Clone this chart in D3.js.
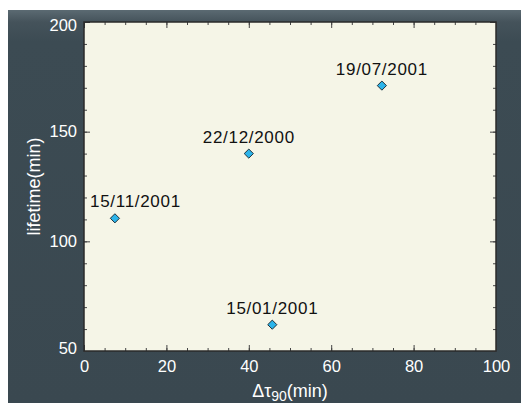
<!DOCTYPE html>
<html><head><meta charset="utf-8">
<script src="https://cdn.jsdelivr.net/npm/d3@7"></script>
<style>
html,body{margin:0;padding:0;background:#fff;}
svg{display:block;}
text{font-family:"Liberation Sans",Arial,Helvetica,sans-serif;}
</style></head>
<body>
<svg id="c" width="521" height="403"></svg>
<script>
const events = ["15/11/2001","22/12/2000","19/07/2001","15/01/2001"];
const deltaTau = [7.5, 40, 72.3, 45.7];
const lifetime = [110.5, 140, 171, 62];
const xTicks = [0,20,40,60,80,100];
const yTicks = [50,100,150,200];
const xLabel = "Δτ";
const xLabelSub = "90";
const xLabelUnit = "(min)";
const yLabel = "lifetime(min)";

const svg = d3.select("#c");
const W = 521, H = 403;
const L = 84, R = 496, T = 22, B = 351;

const defs = svg.append("defs");
const g1 = defs.append("linearGradient").attr("id","bg").attr("x1",0).attr("y1",0).attr("x2",0).attr("y2",1);
g1.append("stop").attr("offset","0").attr("stop-color","#5b6a72");
g1.append("stop").attr("offset","0.03").attr("stop-color","#45535b");
g1.append("stop").attr("offset","0.08").attr("stop-color","#3c4b53");
g1.append("stop").attr("offset","1").attr("stop-color","#3a4850");

svg.append("rect").attr("x",0).attr("y",0).attr("width",W).attr("height",H).attr("fill","#ffffff");
svg.append("rect").attr("x",8).attr("y",10).attr("width",W-8).attr("height",H-10).attr("fill","url(#bg)");

const x = d3.scaleLinear().domain([0,100]).range([L,R]);
const y = d3.scaleLinear().domain([50,200]).range([B,T]);

svg.append("rect").attr("x",L).attr("y",T).attr("width",R-L).attr("height",B-T).attr("fill","#f5f5e7");

const tickCol = "#444";
function drawAxis(axis, tr){
  const g = svg.append("g").attr("transform",tr).call(axis);
  g.select(".domain").remove();
  g.selectAll(".tick line").attr("stroke",tickCol).attr("stroke-width",1);
  return g;
}
// minor ticks
drawAxis(d3.axisBottom(x).tickValues(d3.range(0,101,5)).tickSize(-3).tickFormat(""), `translate(0,${B})`);
drawAxis(d3.axisTop(x).tickValues(d3.range(0,101,5)).tickSize(-3).tickFormat(""), `translate(0,${T})`);
drawAxis(d3.axisLeft(y).tickValues(d3.range(50,201,10)).tickSize(-3).tickFormat(""), `translate(${L},0)`);
drawAxis(d3.axisRight(y).tickValues(d3.range(50,201,10)).tickSize(-3).tickFormat(""), `translate(${R},0)`);
// major ticks
const xb = drawAxis(d3.axisBottom(x).tickValues(xTicks).tickSize(-6).tickPadding(9).tickFormat(d3.format("d")), `translate(0,${B})`);
drawAxis(d3.axisTop(x).tickValues(xTicks).tickSize(-6).tickFormat(""), `translate(0,${T})`);
const yl = drawAxis(d3.axisLeft(y).tickValues(yTicks).tickSize(-6).tickPadding(7).tickFormat(d3.format("d")), `translate(${L},0)`);
drawAxis(d3.axisRight(y).tickValues(yTicks).tickSize(-6).tickFormat(""), `translate(${R},0)`);
[xb,yl].forEach(g=>g.selectAll(".tick text").attr("fill","#ffffff").attr("font-size",16.5).attr("font-family","Liberation Sans, Arial, sans-serif"));
xb.selectAll(".tick text").attr("dy","0.71em");
yl.selectAll(".tick text").attr("y", d => d===200 ? 3 : d===50 ? -3 : 0);

svg.append("rect").attr("x",L).attr("y",T).attr("width",R-L).attr("height",B-T)
  .attr("fill","none").attr("stroke","#2a2a2a").attr("stroke-width",1.5);

// markers
const sym = d3.symbol().type(d3.symbolSquare).size(42);
const pts = events.map((e,i)=>({e, dx:deltaTau[i], lt:lifetime[i]}));
svg.append("g").selectAll("path").data(pts).join("path")
  .attr("d", sym)
  .attr("transform", d=>`translate(${x(d.dx)},${y(d.lt)}) rotate(45)`)
  .attr("fill","#2cb4ea").attr("stroke","#1b2a33").attr("stroke-width",0.9);

const lab = svg.append("g").selectAll("text").data(pts).join("text")
  .attr("y", d=>y(d.lt)-11)
  .attr("font-size",17).attr("letter-spacing",0.7).attr("fill","#111")
  .text(d=>d.e);
lab.each(function(d){
  const w = this.getComputedTextLength();
  const cx = Math.max(x(d.dx), L + 6 + w/2);
  d3.select(this).attr("x", cx - w/2);
});

// axis titles
const xt = svg.append("text").attr("x",(L+R)/2).attr("y",397).attr("text-anchor","middle")
  .attr("fill","#fff").attr("font-size",18);
xt.append("tspan").text(xLabel);
xt.append("tspan").attr("font-size",14).attr("dy",4).text(xLabelSub);
xt.append("tspan").attr("dy",-4).text(xLabelUnit);

svg.append("text").attr("transform",`translate(40,${(T+B)/2}) rotate(-90)`)
  .attr("text-anchor","middle").attr("fill","#fff").attr("font-size",18).text(yLabel);
</script>
</body></html>
